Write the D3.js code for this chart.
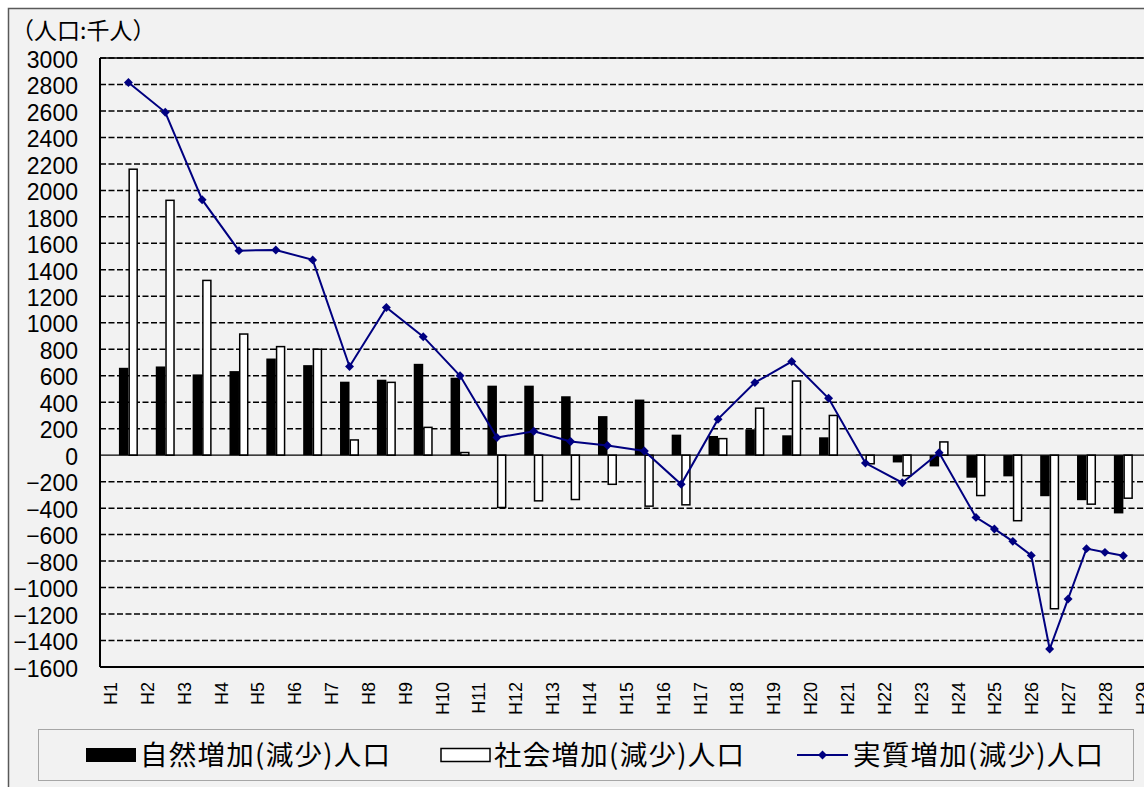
<!doctype html>
<html lang="ja">
  <head>
    <meta charset="utf-8">
    <title>人口増加(減少)</title>
    <style>
    body {
      margin: 0;
      background: #fff;
    }
    .tick text {
      font-family: 'Liberation Sans', Arial, sans-serif;
      fill: #000;
    }
    .jp {
      font-family: 'Noto Sans CJK JP', sans-serif;
      fill: #000;
    }
    </style>
  </head>
  <body>
    <div id="content"></div>

    <script src="https://d3js.org/d3.v7.min.js"></script>
    <script type="text/javascript">
    var w = 1144;
    var h = 787;

    // categories (H = 平成)
    var categories = ['H1', 'H2', 'H3', 'H4', 'H5', 'H6', 'H7', 'H8', 'H9', 'H10',
                      'H11', 'H12', 'H13', 'H14', 'H15', 'H16', 'H17', 'H18', 'H19', 'H20',
                      'H21', 'H22', 'H23', 'H24', 'H25', 'H26', 'H27', 'H28', 'H29'];

    // 自然増加(減少)人口
    var natural = [660, 670, 610, 635, 730, 680, 555, 570, 690, 585,
                   525, 525, 445, 295, 420, 155, 145, 195, 150, 135,
                   5, -55, -85, -170, -160, -310, -340, -440];

    // 社会増加(減少)人口
    var social = [2160, 1925, 1320, 915, 820, 800, 115, 550, 210, 20,
                  -395, -345, -335, -220, -385, -375, 125, 355, 560, 300,
                  -65, -155, 100, -305, -495, -1160, -370, -325];

    // 実質増加(減少)人口 (position in years, the last ones come every half step)
    var realX = [1, 2, 3, 4, 5, 6, 7, 8, 9, 10, 11, 12, 13, 14, 15, 16, 17, 18, 19, 20,
                 21, 22, 23, 24, 24.5, 25, 25.5, 26, 26.5, 27, 27.5, 28];
    var realY = [2815, 2590, 1930, 1545, 1550, 1475, 670, 1115, 895, 600,
                 133, 180, 103, 73, 32, -220, 272, 548, 707, 430,
                 -60, -208, 19, -470, -557, -651, -757, -1464, -1086, -706, -734, -759];

    var yTicks = [-1600, -1400, -1200, -1000, -800, -600, -400, -200, 0, 200, 400,
                  600, 800, 1000, 1200, 1400, 1600, 1800, 2000, 2200, 2400, 2600, 2800, 3000];

    var legendLabels = ['自然増加(減少)人口', '社会増加(減少)人口', '実質増加(減少)人口'];

    var plotLeft = 100;
    var plotTop = 58;
    var plotBottom = 667;
    var barW = 9.5;

    var svg = d3.select('#content')
                .append('svg')
                .attr('width', w)
                .attr('height', h);

    // chart background
    svg.append('rect')
      .attr('x', 8.5)
      .attr('y', 8.5)
      .attr('width', w)
      .attr('height', h)
      .attr('fill', '#f2f2f2')
      .attr('stroke', '#595959')
      .attr('stroke-width', 1.5);

    svg.append('text')
      .attr('class', 'jp')
      .attr('x', 11)
      .attr('y', 39)
      .style('font-size', '23px')
      .text('（人口:千人）');

    var xScale = d3.scaleLinear()
                   .domain([0.5, 29.5])
                   .range([110, 110 + 29 * 36.85]);

    var yScale = d3.scaleLinear()
                   .domain([-1600, 3000])
                   .range([plotBottom, plotTop]);

    //Create gridlines
    svg.append('g')
      .selectAll('line')
      .data(yTicks.filter(d => d != 0))
      .enter()
      .append('line')
      .attr('x1', plotLeft)
      .attr('x2', w)
      .attr('y1', d => yScale(d))
      .attr('y2', d => yScale(d))
      .attr('stroke', '#000')
      .attr('stroke-width', 1.5)
      .attr('stroke-dasharray', '6,2.5');

    // top and bottom of the plot area
    svg.append('line')
      .attr('x1', plotLeft).attr('x2', w)
      .attr('y1', plotTop).attr('y2', plotTop)
      .attr('stroke', '#000')
      .attr('stroke-width', 1.5);
    svg.append('line')
      .attr('x1', plotLeft).attr('x2', w)
      .attr('y1', plotBottom).attr('y2', plotBottom)
      .attr('stroke', '#000')
      .attr('stroke-width', 2);

    //Create y axis
    var yAxis = d3.axisLeft()
                  .scale(yScale)
                  .tickValues(yTicks)
                  .tickFormat(d3.format('d'))
                  .tickSize(0)
                  .tickPadding(22);

    var yG = svg.append('g')
      .attr('transform', `translate(${plotLeft}, 0)`)
      .call(yAxis);
    yG.select('.domain').remove();
    yG.selectAll('text')
      .attr('dy', '0.4em')
      .style('font-size', '23px');

    //Create x axis labels
    var xAxis = d3.axisBottom()
                  .scale(xScale)
                  .tickValues(categories.map((c, i) => i + 0.5))
                  .tickFormat((d, i) => categories[i])
                  .tickSize(0);

    var xG = svg.append('g')
      .attr('transform', `translate(0, ${plotBottom})`)
      .call(xAxis);
    xG.select('.domain').remove();
    xG.selectAll('text')
      .attr('transform', 'rotate(-90)')
      .attr('text-anchor', 'end')
      .attr('x', -15)
      .attr('y', 0)
      .attr('dy', '0.36em')
      .style('font-size', '18px');

    //Create bars
    svg.append('g')
      .selectAll('rect')
      .data(natural)
      .enter()
      .append('rect')
      .attr('x', (d, i) => xScale(i + 1) - barW)
      .attr('y', d => yScale(Math.max(0, d)))
      .attr('width', barW)
      .attr('height', d => Math.abs(yScale(d) - yScale(0)))
      .attr('fill', '#000');

    svg.append('g')
      .selectAll('rect')
      .data(social)
      .enter()
      .append('rect')
      .attr('x', (d, i) => xScale(i + 1) + 0.75)
      .attr('y', d => yScale(Math.max(0, d)))
      .attr('width', barW - 1.5)
      .attr('height', d => Math.abs(yScale(d) - yScale(0)))
      .attr('fill', '#fff')
      .attr('stroke', '#000')
      .attr('stroke-width', 1.5);

    // zero line
    svg.append('line')
      .attr('x1', plotLeft).attr('x2', w)
      .attr('y1', yScale(0)).attr('y2', yScale(0))
      .attr('stroke', '#000')
      .attr('stroke-width', 1.2);

    // left axis line
    svg.append('line')
      .attr('x1', plotLeft).attr('x2', plotLeft)
      .attr('y1', plotTop).attr('y2', plotBottom)
      .attr('stroke', '#000')
      .attr('stroke-width', 2);

    //Create line
    var realData = realX.map((x, i) => ({'x': x, 'y': realY[i]}));

    var line = d3.line()
                 .x(d => xScale(d.x))
                 .y(d => yScale(d.y));

    svg.append('path')
      .datum(realData)
      .attr('d', line)
      .attr('fill', 'none')
      .attr('stroke', '#000080')
      .attr('stroke-width', 2);

    var diamond = d3.symbol().type(d3.symbolSquare).size(40);

    svg.append('g')
      .selectAll('path')
      .data(realData)
      .enter()
      .append('path')
      .attr('d', diamond)
      .attr('transform', d => `translate(${xScale(d.x)}, ${yScale(d.y)}) rotate(45)`)
      .attr('fill', '#000080');

    //Create legend
    var legend = svg.append('g');

    legend.append('rect')
      .attr('x', 38.5)
      .attr('y', 729.5)
      .attr('width', 1095)
      .attr('height', 51)
      .attr('fill', '#f2f2f2')
      .attr('stroke', '#a6a6a6')
      .attr('stroke-width', 1);

    legend.append('rect')
      .attr('x', 86)
      .attr('y', 748)
      .attr('width', 50)
      .attr('height', 14)
      .attr('fill', '#000');

    legend.append('rect')
      .attr('x', 441)
      .attr('y', 748.5)
      .attr('width', 49)
      .attr('height', 13)
      .attr('fill', '#fff')
      .attr('stroke', '#000')
      .attr('stroke-width', 1.5);

    legend.append('line')
      .attr('x1', 797).attr('x2', 848)
      .attr('y1', 755).attr('y2', 755)
      .attr('stroke', '#000080')
      .attr('stroke-width', 2);

    legend.append('path')
      .attr('d', diamond)
      .attr('transform', 'translate(822.5, 755) rotate(45)')
      .attr('fill', '#000080');

    var legendX = [140, 494, 853];

    legend.selectAll('text')
      .data(legendLabels)
      .enter()
      .append('text')
      .attr('class', 'jp')
      .attr('x', (d, i) => legendX[i])
      .attr('y', 765)
      .attr('textLength', 250)
      .attr('lengthAdjust', 'spacing')
      .style('font-size', '27.5px')
      .text(d => d);
    </script>
  </body>
</html>
